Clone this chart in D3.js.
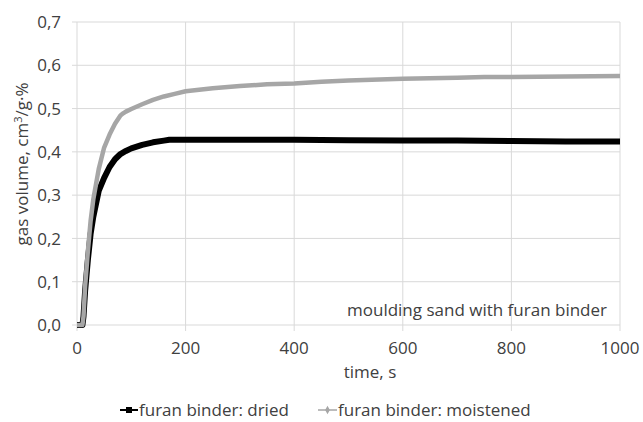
<!DOCTYPE html>
<html><head><meta charset="utf-8">
<script src="https://cdn.jsdelivr.net/npm/d3@7"></script>
<style>
body{margin:0;background:#fff;}
text{font-family:"Open Sans",sans-serif;fill:#404040;}
</style></head>
<body><svg id="c" width="643" height="422"></svg>
<script>
const timeDried = [0,10,12,15,20,25,30,40,50,60,70,80,90,100,120,140,160,170,180,200,300,400,500,600,700,800,900,1000];
const valDried  = [0,0,0.02,0.08,0.15,0.21,0.25,0.31,0.34,0.365,0.383,0.395,0.402,0.408,0.416,0.422,0.426,0.428,0.428,0.428,0.428,0.428,0.427,0.426,0.426,0.425,0.424,0.424];
const timeMoist = [0,10,12,15,20,25,30,40,50,60,70,80,85,90,100,120,140,160,180,200,250,300,350,400,450,500,600,700,750,800,900,1000];
const valMoist  = [0,0,0.02,0.09,0.17,0.24,0.29,0.36,0.41,0.44,0.465,0.484,0.489,0.493,0.499,0.51,0.52,0.528,0.534,0.54,0.547,0.552,0.556,0.558,0.562,0.565,0.569,0.571,0.573,0.573,0.574,0.575];
const xTicks = [0,200,400,600,800,1000];
const yTicks = [0,0.1,0.2,0.3,0.4,0.5,0.6,0.7];
const seriesNames = ["furan binder: dried","furan binder: moistened"];
const annotation = "moulding sand with furan binder";
const xTitle = "time, s";

const svg = d3.select("#c");
const x = d3.scaleLinear().domain([0,1000]).range([77,620]);
const y = d3.scaleLinear().domain([0,0.7]).range([325,22]);
const fmt = d => d3.format(".1f")(d).replace(".", ",");
const FS = 17;

// gridlines
svg.append("g").selectAll("line").data(yTicks).join("line")
  .attr("x1", x(0)-5).attr("x2", x(1000)).attr("y1", d=>y(d)).attr("y2", d=>y(d))
  .attr("stroke","#d9d9d9").attr("stroke-width",1);
svg.append("g").selectAll("line").data(xTicks).join("line")
  .attr("x1", d=>x(d)).attr("x2", d=>x(d)).attr("y1", y(0.7)).attr("y2", y(0)+6)
  .attr("stroke","#d9d9d9").attr("stroke-width",1);

// tick labels
svg.append("g").selectAll("text").data(yTicks).join("text")
  .attr("x", 61).attr("y", d=>y(d)).attr("dy","0.36em").attr("text-anchor","end")
  .attr("font-size",FS).text(fmt);
svg.append("g").selectAll("text").data(xTicks).join("text")
  .attr("x", d=>x(d)).attr("y", 348).attr("dy","0.36em").attr("text-anchor","middle")
  .attr("font-size",FS).text(d=>d);

// titles
svg.append("text").attr("x",370).attr("y",372).attr("dy","0.36em").attr("text-anchor","middle")
  .attr("font-size",FS).text(xTitle);
const yt = svg.append("text").attr("transform","translate(22,164) rotate(-90)")
  .attr("text-anchor","middle").attr("dy","0.36em").attr("font-size",FS);
yt.append("tspan").text("gas volume, cm");
yt.append("tspan").attr("font-size",11).attr("dy","-0.6em").text("3");
yt.append("tspan").attr("dy","0.4em").text("/g·%");

// annotation
svg.append("text").attr("x",607).attr("y",310).attr("dy","0.36em").attr("text-anchor","end")
  .attr("font-size",FS).text(annotation);

// lines
const line = d3.line().x(d=>x(d[0])).y(d=>y(d[1]));
const dried = timeDried.map((t,i)=>[t,valDried[i]]);
const moist = timeMoist.map((t,i)=>[t,valMoist[i]]);
svg.append("path").datum(dried).attr("d",line).attr("fill","none")
  .attr("stroke","#000").attr("stroke-width",6).attr("stroke-linejoin","round");
svg.append("path").datum(moist).attr("d",line).attr("fill","none")
  .attr("stroke","#a6a6a6").attr("stroke-width",4.5).attr("stroke-linejoin","round");

// legend
const lg = svg.append("g");
lg.append("line").attr("x1",120).attr("x2",138).attr("y1",410).attr("y2",410).attr("stroke","#000").attr("stroke-width",2);
lg.append("rect").attr("x",126).attr("y",407).attr("width",6).attr("height",6).attr("fill","#000");
lg.append("text").attr("x",139).attr("y",410).attr("dy","0.36em").attr("font-size",FS).text(seriesNames[0]);
lg.append("line").attr("x1",318).attr("x2",337).attr("y1",410).attr("y2",410).attr("stroke","#a6a6a6").attr("stroke-width",1.5);
lg.append("path").attr("d",d3.symbol(d3.symbolDiamond,20)()).attr("transform","translate(327.5,410)").attr("fill","#a6a6a6");
lg.append("text").attr("x",338).attr("y",410).attr("dy","0.36em").attr("font-size",FS).text(seriesNames[1]);
</script></body></html>
